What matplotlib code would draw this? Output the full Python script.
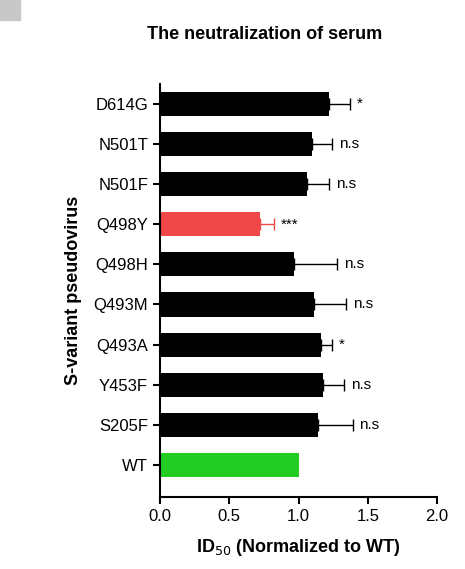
import matplotlib.pyplot as plt
from matplotlib.patches import Rectangle

plt.rcParams["font.family"] = ["Liberation Sans", "DejaVu Sans"]

variants = ["D614G", "N501T", "N501F", "Q498Y", "Q498H", "Q493M", "Q493A", "Y453F", "S205F", "WT"]
means = [1.22, 1.10, 1.06, 0.72, 0.97, 1.11, 1.16, 1.18, 1.14, 1.00]
errors = [0.15, 0.14, 0.16, 0.10, 0.31, 0.23, 0.08, 0.15, 0.25, 0.0]
signif = ["*", "n.s", "n.s", "***", "n.s", "n.s", "*", "n.s", "n.s", ""]
colors = ["black"] * 3 + ["#f04848"] + ["black"] * 5 + ["#22cc22"]

fig = plt.figure(figsize=(4.65, 5.69), dpi=100)
ax = fig.add_axes([0.344, 0.127, 0.596, 0.725])
fig.patches.append(Rectangle((0, 0.965), 0.043, 0.035, transform=fig.transFigure, color="#c8c8c8"))

y = list(range(len(variants)))
for yi, m, e, c, s in zip(y, means, errors, colors, signif):
    ax.barh(yi, m, height=0.6, color=c)
    if e > 0:
        ax.errorbar(m, yi, xerr=[[0], [e]], fmt="none", ecolor=c, elinewidth=1, capsize=4)
    if s:
        ax.text(m + e + 0.05, yi, s, va="center", ha="left", fontsize=11)

ax.set_ylim(len(variants) - 0.2, -0.5)
ax.set_xlim(0, 2.0)
ax.set_xticks([0, 0.5, 1.0, 1.5, 2.0])
ax.set_xticklabels(["0.0", "0.5", "1.0", "1.5", "2.0"])
ax.set_yticks(y)
ax.set_yticklabels(variants)
ax.tick_params(labelsize=12, width=1.5, length=5)
for side in ["top", "right"]:
    ax.spines[side].set_visible(False)
for side in ["left", "bottom"]:
    ax.spines[side].set_linewidth(1.5)
ax.set_xlabel("ID$_{50}$ (Normalized to WT)", fontsize=13, fontweight="bold", labelpad=10)
ax.set_ylabel("S-variant pseudovirus", fontsize=13, fontweight="bold", labelpad=8)
fig.text(0.57, 0.94, "The neutralization of serum", fontsize=13, fontweight="bold", ha="center", va="center")

fig.savefig("out.png", dpi=100)
